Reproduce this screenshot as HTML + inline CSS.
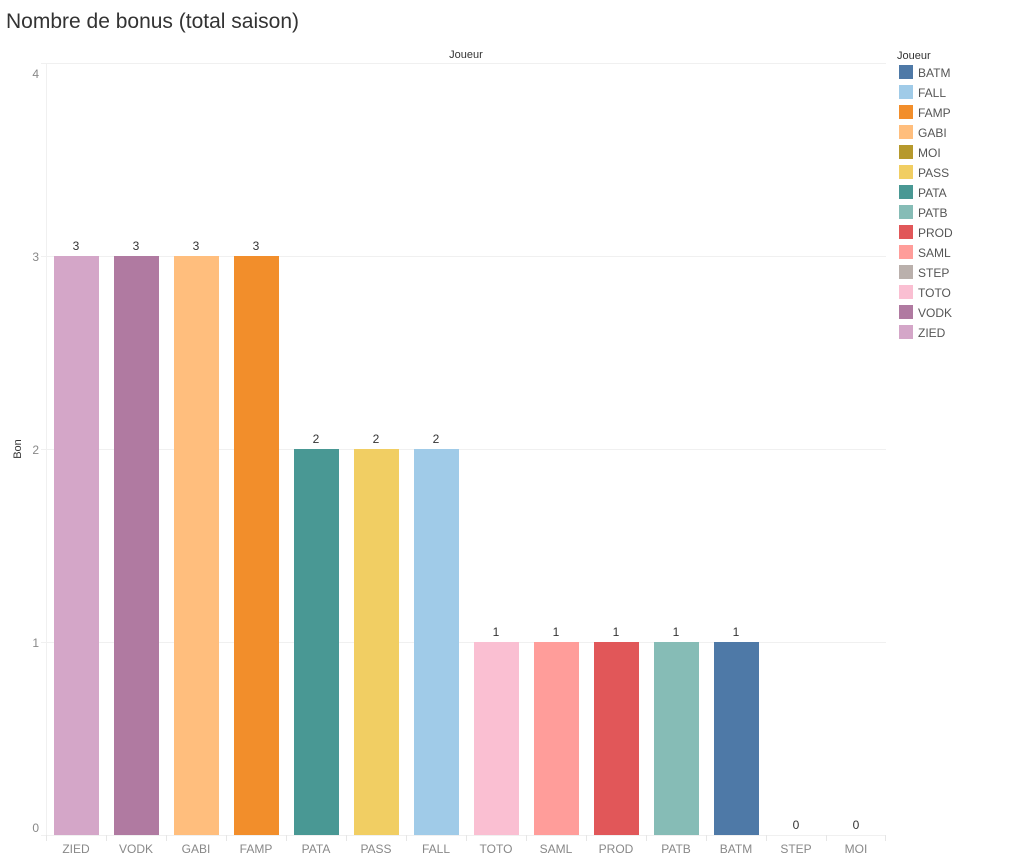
<!DOCTYPE html>
<html><head><meta charset="utf-8"><style>
html,body{margin:0;padding:0;background:#fff;}
body{width:1036px;height:857px;overflow:hidden;}
svg text{font-family:"Liberation Sans","DejaVu Sans",sans-serif;}
</style></head><body>
<svg width="1036" height="857" viewBox="0 0 1036 857" xmlns="http://www.w3.org/2000/svg">
<text x="6" y="28" font-size="21" fill="#333">Nombre de bonus (total saison)</text>
<text x="466" y="58" font-size="11" fill="#333" text-anchor="middle">Joueur</text>
<!-- gridlines -->
<g stroke="#f0f0f0" stroke-width="1">
<line x1="41" y1="63.5" x2="886" y2="63.5"/>
<line x1="41" y1="256.5" x2="886" y2="256.5"/>
<line x1="41" y1="449.5" x2="886" y2="449.5"/>
<line x1="41" y1="642.5" x2="886" y2="642.5"/>
<line x1="41" y1="835.5" x2="886" y2="835.5"/>
<line x1="46.5" y1="63" x2="46.5" y2="836"/>
</g>
<g stroke="#e6e6e6" stroke-width="1">
<line x1="46.5" y1="835" x2="46.5" y2="841"/>
<line x1="106.5" y1="835" x2="106.5" y2="841"/>
<line x1="166.5" y1="835" x2="166.5" y2="841"/>
<line x1="226.5" y1="835" x2="226.5" y2="841"/>
<line x1="286.5" y1="835" x2="286.5" y2="841"/>
<line x1="346.5" y1="835" x2="346.5" y2="841"/>
<line x1="406.5" y1="835" x2="406.5" y2="841"/>
<line x1="466.5" y1="835" x2="466.5" y2="841"/>
<line x1="526.5" y1="835" x2="526.5" y2="841"/>
<line x1="586.5" y1="835" x2="586.5" y2="841"/>
<line x1="646.5" y1="835" x2="646.5" y2="841"/>
<line x1="706.5" y1="835" x2="706.5" y2="841"/>
<line x1="766.5" y1="835" x2="766.5" y2="841"/>
<line x1="826.5" y1="835" x2="826.5" y2="841"/>
<line x1="885.5" y1="835" x2="885.5" y2="841"/>
</g>
<!-- y ticks -->
<g font-size="12" fill="#888" text-anchor="end">
<text x="39" y="78">4</text>
<text x="39" y="261">3</text>
<text x="39" y="454">2</text>
<text x="39" y="647">1</text>
<text x="39" y="832">0</text>
</g>
<text transform="translate(21,449) rotate(-90)" font-size="11" fill="#333" text-anchor="middle">Bon</text>
<!-- bars -->
<rect x="54" y="256" width="45" height="579" fill="#D4A6C8"/>
<rect x="114" y="256" width="45" height="579" fill="#B07AA1"/>
<rect x="174" y="256" width="45" height="579" fill="#FFBE7D"/>
<rect x="234" y="256" width="45" height="579" fill="#F28E2B"/>
<rect x="294" y="449" width="45" height="386" fill="#499894"/>
<rect x="354" y="449" width="45" height="386" fill="#F1CE63"/>
<rect x="414" y="449" width="45" height="386" fill="#A0CBE8"/>
<rect x="474" y="642" width="45" height="193" fill="#FABFD2"/>
<rect x="534" y="642" width="45" height="193" fill="#FF9D9A"/>
<rect x="594" y="642" width="45" height="193" fill="#E15759"/>
<rect x="654" y="642" width="45" height="193" fill="#86BCB6"/>
<rect x="714" y="642" width="45" height="193" fill="#4E79A7"/>
<!-- value labels -->
<g font-size="12" fill="#333" text-anchor="middle">
<text x="76" y="250">3</text>
<text x="136" y="250">3</text>
<text x="196" y="250">3</text>
<text x="256" y="250">3</text>
<text x="316" y="443">2</text>
<text x="376" y="443">2</text>
<text x="436" y="443">2</text>
<text x="496" y="636">1</text>
<text x="556" y="636">1</text>
<text x="616" y="636">1</text>
<text x="676" y="636">1</text>
<text x="736" y="636">1</text>
<text x="796" y="829">0</text>
<text x="856" y="829">0</text>
</g>
<!-- x labels -->
<g font-size="12" fill="#888" text-anchor="middle">
<text x="76" y="853">ZIED</text>
<text x="136" y="853">VODK</text>
<text x="196" y="853">GABI</text>
<text x="256" y="853">FAMP</text>
<text x="316" y="853">PATA</text>
<text x="376" y="853">PASS</text>
<text x="436" y="853">FALL</text>
<text x="496" y="853">TOTO</text>
<text x="556" y="853">SAML</text>
<text x="616" y="853">PROD</text>
<text x="676" y="853">PATB</text>
<text x="736" y="853">BATM</text>
<text x="796" y="853">STEP</text>
<text x="856" y="853">MOI</text>
</g>
<!-- legend -->
<text x="897" y="59" font-size="11" fill="#333">Joueur</text>
<g>
<rect x="899" y="65" width="14" height="14" fill="#4E79A7"/>
<rect x="899" y="85" width="14" height="14" fill="#A0CBE8"/>
<rect x="899" y="105" width="14" height="14" fill="#F28E2B"/>
<rect x="899" y="125" width="14" height="14" fill="#FFBE7D"/>
<rect x="899" y="145" width="14" height="14" fill="#B6992D"/>
<rect x="899" y="165" width="14" height="14" fill="#F1CE63"/>
<rect x="899" y="185" width="14" height="14" fill="#499894"/>
<rect x="899" y="205" width="14" height="14" fill="#86BCB6"/>
<rect x="899" y="225" width="14" height="14" fill="#E15759"/>
<rect x="899" y="245" width="14" height="14" fill="#FF9D9A"/>
<rect x="899" y="265" width="14" height="14" fill="#BAB0AC"/>
<rect x="899" y="285" width="14" height="14" fill="#FABFD2"/>
<rect x="899" y="305" width="14" height="14" fill="#B07AA1"/>
<rect x="899" y="325" width="14" height="14" fill="#D4A6C8"/>
</g>
<g font-size="12" fill="#555">
<text x="918" y="77">BATM</text>
<text x="918" y="97">FALL</text>
<text x="918" y="117">FAMP</text>
<text x="918" y="137">GABI</text>
<text x="918" y="157">MOI</text>
<text x="918" y="177">PASS</text>
<text x="918" y="197">PATA</text>
<text x="918" y="217">PATB</text>
<text x="918" y="237">PROD</text>
<text x="918" y="257">SAML</text>
<text x="918" y="277">STEP</text>
<text x="918" y="297">TOTO</text>
<text x="918" y="317">VODK</text>
<text x="918" y="337">ZIED</text>
</g>
</svg>
</body></html>
